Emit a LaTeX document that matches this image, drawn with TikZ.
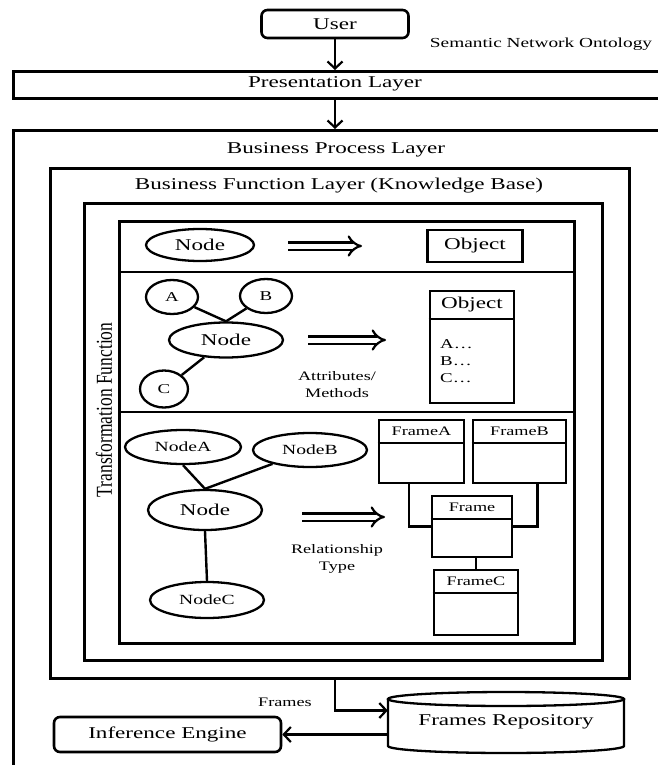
\documentclass[tikz,border=0pt]{standalone}
\usepackage{fontspec}
\setmainfont{Liberation Serif}[FakeStretch=1.4]
\newfontfamily\tffont{Liberation Serif}
\usetikzlibrary{arrows.meta,shapes.geometric}
\begin{document}
\begin{tikzpicture}[x=1pt,y=-1pt,
  box/.style={draw, line width=2.6pt, inner sep=0pt},
  rbox/.style={box, rounded corners=6pt},
  ell/.style={draw, ellipse, line width=2.3pt, inner sep=0pt},
  txt/.style={inner sep=0pt},
  big/.style={font=\fontsize{16.5}{19}\selectfont},
  mid/.style={font=\fontsize{16.5}{18}\selectfont},
  nod/.style={font=\fontsize{14}{16}\selectfont},
  sml/.style={font=\fontsize{13.5}{16}\selectfont},
  lbltext/.style={font=\fontsize{13}{14}\selectfont},
  link/.style={line width=2.4pt},
  arr/.style={line width=2.2pt, -{Straight Barb[length=7pt,width=15pt]}},
  dbl/.style={double, double distance=5pt, line width=2.2pt, -{Implies[scale=1.2]}},
]
\useasboundingbox (0,0) rectangle (657,765);

% top
\node[rbox, big, minimum width=147, minimum height=28] (user) at (335,24) {User};
\node[txt, font=\fontsize{13.8}{16}\selectfont] (sno) at (541,44) {Semantic Network Ontology};
\node[box, anchor=north west, minimum width=700, minimum height=27] (pres) at (12,70) {};
\node[txt, big] (prestxt) at (335,84) {Presentation Layer};
\draw[arr] (user.south) -- (user.south |- pres.north);

\node[box, anchor=north west, minimum width=700, minimum height=700] (bpl) at (12,129) {};
\draw[arr] (user.south |- pres.south) -- (user.south |- bpl.north);
\node[txt, big] (bpltxt) at (336,150) {Business Process Layer};

\node[box, anchor=north west, minimum width=579, minimum height=510] (bfl) at (49,167) {};
\node[txt, big] (bfltxt) at (339,186) {Business Function Layer (Knowledge Base)};

\node[box, anchor=north west, minimum width=518, minimum height=457] (tf) at (83,202) {};
\node[txt, rotate=90, font=\tffont\fontsize{17.5}{19}\selectfont] (tftxt) at (104,410) {\scalebox{1}[1.3]{Transformation Function}};

\node[box, anchor=north west, minimum width=455, minimum height=422] (inner) at (118,220) {};
\draw[box] (118,272) -- (573,272);
\draw[box] (118,412) -- (573,412);

% section 1
\node[ell, mid, minimum width=108, minimum height=32] (n1) at (200,245) {Node};
\node[box, mid, minimum width=95, minimum height=32] (o1) at (475,246) {Object};
\coordinate (a1s) at (288,246);
\coordinate (a1e) at (362,246);
\draw[dbl] (a1s) -- (a1e);

% section 2
\node[ell, sml, minimum width=52, minimum height=34] (na) at (172,297) {A};
\node[ell, sml, minimum width=52, minimum height=34] (nb) at (266,296) {B};
\node[ell, mid, minimum width=114, minimum height=35] (n2) at (226,340) {Node};
\node[ell, sml, minimum width=48, minimum height=37] (nc) at (164,389) {C};
\draw[link] (na) -- (n2.north);
\draw[link] (nb) -- (n2.north);
\draw[link] (n2) -- (nc);
\coordinate (a2s) at (308,340);
\coordinate (a2e) at (386,340);
\draw[dbl] (a2s) -- (a2e);
\node[txt, lbltext] (attr) at (337,376) {Attributes/};
\node[txt, lbltext] (meth) at (337,393) {Methods};
\node[box, minimum width=84, minimum height=112] (o2) at (472,347) {};
\draw[box] (o2.west |- 0,319) -- (o2.east |- 0,319);
\node[txt, mid] (o2t) at (472,305) {Object};
\node[txt, sml, anchor=west] (o2a) at (440,344) {A…};
\node[txt, sml, anchor=west] (o2b) at (440,361) {B…};
\node[txt, sml, anchor=west] (o2c) at (440,378) {C…};

% section 3
\node[ell, nod, minimum width=116, minimum height=34] (nA) at (183,447) {NodeA};
\node[ell, nod, minimum width=114, minimum height=34] (nB) at (310,450) {NodeB};
\node[ell, mid, minimum width=114, minimum height=40] (n3) at (205,510) {Node};
\node[ell, nod, minimum width=114, minimum height=36] (nC) at (207,600) {NodeC};
\draw[link] (nA.south) -- (n3.north);
\draw[link] (nB) -- (n3.north);
\draw[link] (n3.south) -- (nC.north);
\coordinate (a3s) at (302,517);
\coordinate (a3e) at (385,517);
\draw[dbl] (a3s) -- (a3e);
\node[txt, lbltext] (rel) at (337,550) {Relationship};
\node[txt, lbltext] (typ) at (337,568) {Type};

\node[box, minimum width=85, minimum height=63] (fA) at (421.5,451.5) {};
\draw[box] (fA.west |- 0,443) -- (fA.east |- 0,443);
\node[txt, lbltext] (fAt) at (421.5,431) {FrameA};
\node[box, minimum width=93, minimum height=63] (fB) at (519.5,451.5) {};
\draw[box] (fB.west |- 0,443) -- (fB.east |- 0,443);
\node[txt, lbltext] (fBt) at (519.5,431) {FrameB};
\node[box, minimum width=80, minimum height=61] (fr) at (472,526.5) {};
\draw[box] (fr.west |- 0,519) -- (fr.east |- 0,519);
\node[txt, lbltext] (frt) at (472,507) {Frame};
\node[box, minimum width=84, minimum height=65] (fC) at (476,602.5) {};
\draw[box] (fC.west |- 0,593) -- (fC.east |- 0,593);
\node[txt, lbltext] (fCt) at (476,581) {FrameC};
\draw[box] ([xshift=-12.5pt]fA.south) |- (fr.west);
\draw[box] ([xshift=18pt]fB.south) |- (fr.east);
\draw[box] (fC.north |- fr.south) -- (fC.north);

% bottom
\node[inner sep=0pt, minimum width=236, minimum height=61] (repo) at (506,722.5) {};
\draw[line width=2.3pt] (388,699) -- (388,746) arc[start angle=180, end angle=360, x radius=118pt, y radius=7pt] -- (624,699);
\draw[line width=2.3pt] (506,699) ellipse [x radius=118pt, y radius=7pt];
\node[txt, big] (repot) at (506,722) {Frames Repository};
\node[rbox, big, minimum width=227, minimum height=35] (inf) at (167.5,734.5) {Inference Engine};
\draw[arr] (bfl.south -| 335,0) |- ([yshift=12pt]repo.west);
\node[txt, lbltext] (frm) at (285,702) {Frames};
\draw[arr] (repo.west |- inf.east) -- (inf.east);
\end{tikzpicture}
\end{document}
